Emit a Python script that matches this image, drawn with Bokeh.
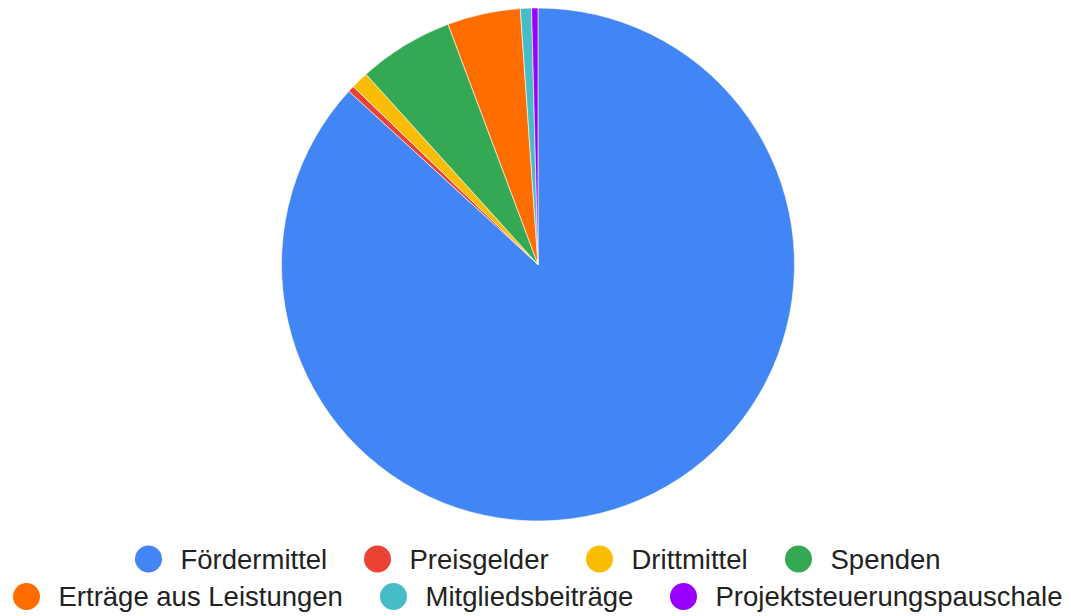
import math
from bokeh.plotting import figure
from bokeh.models import Range1d, ColumnDataSource
from bokeh.core.properties import value
from bokeh.embed import file_html
from bokeh.resources import INLINE

# ---- data (percent shares) ----
categories = ["Fördermittel", "Preisgelder", "Drittmittel", "Spenden",
              "Erträge aus Leistungen", "Mitgliedsbeiträge", "Projektsteuerungspauschale"]
shares = [86.8, 0.4, 1.1, 6.0, 4.6, 0.7, 0.4]
colors = ["#4285F4", "#EA4335", "#FBBC04", "#34A853", "#FF6D01", "#46BDC6", "#9900FF"]

# ---- layout (pixels) ----
W, H = 1071, 616
CX, CY, R = 537.5, 264.0, 256.5
legend_row = [0, 0, 0, 0, 1, 1, 1]
legend_dot_x = [148, 377, 599, 798, 26, 393, 683]
row_dot_y = [558.5, 596.0]
text_gap = 32

p = figure(width=W, height=H, output_backend="svg", toolbar_location=None,
           x_range=Range1d(0, W), y_range=Range1d(0, H), min_border=0)
p.axis.visible = False
p.grid.visible = False
p.outline_line_color = None
p.background_fill_color = "white"
p.border_fill_color = "white"

total = sum(shares)
starts, ends = [], []
acc = 0.0
for s in shares:
    a0 = math.pi / 2 - 2 * math.pi * (acc + s) / total
    a1 = math.pi / 2 - 2 * math.pi * acc / total
    starts.append(a0)
    ends.append(a1)
    acc += s

src = ColumnDataSource(dict(start=starts, end=ends, color=colors,
                            x=[CX] * len(shares), y=[H - CY] * len(shares)))
p.wedge(x="x", y="y", radius=R, start_angle="start", end_angle="end",
        direction="anticlock", fill_color="color", line_color="white",
        line_width=0.6, source=src)

leg = ColumnDataSource(dict(
    dx=legend_dot_x,
    dy=[H - row_dot_y[r] for r in legend_row],
    tx=[x + text_gap for x in legend_dot_x],
    ty=[H - row_dot_y[r] for r in legend_row],
    label=categories, color=colors))
p.scatter(x="dx", y="dy", size=27, marker="circle", fill_color="color",
          line_color=None, source=leg)
p.text(x="tx", y="ty", text="label", text_font=value("Liberation Sans"),
       text_font_size="27.5px", text_color="#222222", text_baseline="middle",
       text_align="left", source=leg)

open("out.html", "w").write(file_html(p, INLINE))
